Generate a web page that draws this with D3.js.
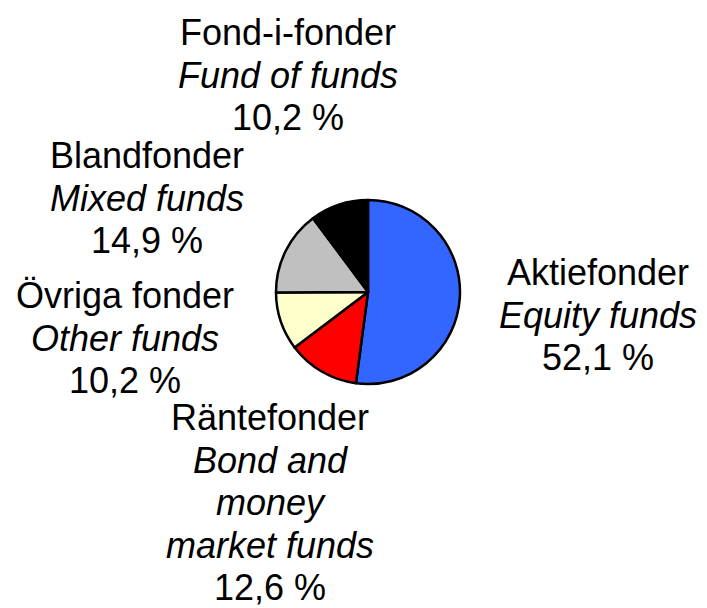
<!DOCTYPE html>
<html>
<head>
<meta charset="utf-8">
<script src="https://cdn.jsdelivr.net/npm/d3@7"></script>
<style>
  body { margin: 0; background: #fff; }
  text { font-family: "Liberation Sans", Arial, sans-serif; font-size: 36px; fill: #000; }
</style>
</head>
<body>
<svg class="PieChart" width="707" height="608"></svg>
<script>
// fund categories, clockwise from 12 o'clock
var categories = ["Aktiefonder", "Räntefonder", "Övriga fonder", "Blandfonder", "Fond-i-fonder"];
var englishNames = [["Equity funds"], ["Bond and", "money", "market funds"], ["Other funds"], ["Mixed funds"], ["Fund of funds"]];
var shares = [52.1, 12.6, 10.2, 14.9, 10.2];
var sliceColors = ["#3366ff", "#ff0000", "#ffffcc", "#c0c0c0", "#000000"];

// label anchor (center x, first baseline y)
var labelPos = [[598, 285], [270, 430], [125, 308], [147, 168], [288, 45]];

var metaForPie = {};
metaForPie['cx'] = 368;
metaForPie['cy'] = 292;
metaForPie['radius'] = 92;
metaForPie['lineHeight'] = 42.5;

var data = categories.map(function(c, i) {
    return { name: c, eng: englishNames[i], value: shares[i], color: sliceColors[i], pos: labelPos[i] };
});

var svg = d3.select(".PieChart");

var pie = d3.pie()
    .sort(null)
    .value(d => d.value);

var arc = d3.arc()
    .innerRadius(0)
    .outerRadius(metaForPie['radius']);

var holder = svg.append('g')
    .attr('transform', `translate(${metaForPie['cx']}, ${metaForPie['cy']})`);

holder.selectAll('.slice')
    .data(pie(data))
    .enter()
    .append('path')
    .attr('class', 'slice')
    .attr('d', arc)
    .attr('fill', d => d.data.color)
    .attr('stroke', '#000')
    .attr('stroke-width', 2.5)
    .attr('stroke-linejoin', 'round');

var labels = svg.selectAll('.label')
    .data(data)
    .enter()
    .append('text')
    .attr('class', 'label')
    .attr('text-anchor', 'middle');

labels.each(function(d) {
    var t = d3.select(this);
    var lines = [{ s: d.name, it: false }]
        .concat(d.eng.map(e => ({ s: e, it: true })))
        .concat([{ s: d.value.toFixed(1).replace('.', ',') + ' %', it: false }]);
    lines.forEach(function(l, i) {
        t.append('tspan')
            .attr('x', d.pos[0])
            .attr('y', d.pos[1] + i * metaForPie['lineHeight'])
            .style('font-style', l.it ? 'italic' : 'normal')
            .text(l.s);
    });
});
</script>
</body>
</html>
